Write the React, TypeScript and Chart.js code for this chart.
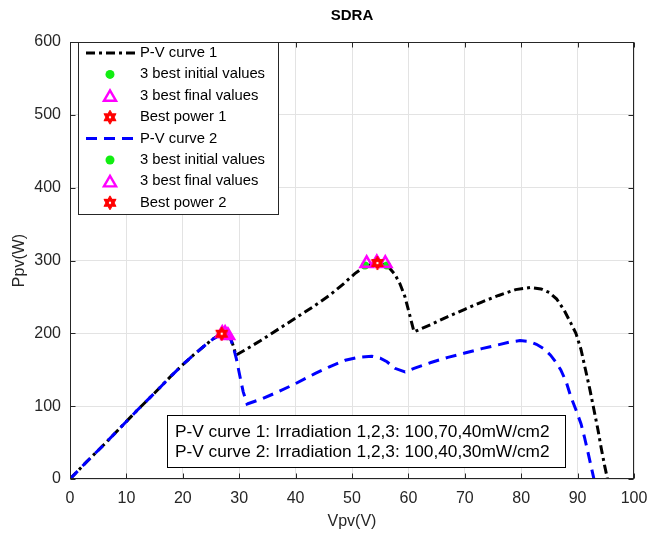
import React, { useEffect, useRef } from 'react';
import { Chart, registerables } from 'chart.js';

Chart.register(...registerables);

// ---------- data ----------
const chartTitle = 'SDRA';
const xLabel = 'Vpv(V)';
const yLabel = 'Ppv(W)';
const xTickValues = [0, 10, 20, 30, 40, 50, 60, 70, 80, 90, 100];
const yTickValues = [0, 100, 200, 300, 400, 500, 600];

const curve1V = [0, 3, 6, 9, 12, 15, 18, 20, 22, 24, 25.5, 26.8, 27.8, 28.5, 29, 29.4, 31, 34, 37, 40, 43, 46, 48.5, 50.5, 52.3, 54, 55.5, 56.6, 57.6, 58.5, 59.4, 60.2, 61, 64, 67, 70, 73, 76, 79, 81.7, 83.5, 85, 86.3, 87.6, 88.8, 89.7, 90.6, 91.4, 92.2, 92.9, 93.6, 94.2, 94.8, 95.3];
const curve1P = [0, 24, 47, 71, 95, 118, 142, 157, 171, 184, 193, 199, 199.5, 192, 182, 170, 177, 191, 206, 221, 236, 252, 268, 282, 292, 296, 295, 290, 281, 268, 250, 226, 202, 212, 223, 233, 243, 252, 260, 263, 261, 256, 247, 232, 214, 200, 178, 150, 122, 95, 68, 42, 18, 0];

const curve2V = [0, 3, 6, 9, 12, 15, 18, 20, 22, 24, 25.5, 26.8, 27.8, 28.5, 29, 29.5, 30.1, 30.7, 31.4, 34, 37, 40, 43.5, 46, 48.8, 51, 53.5, 55, 56.2, 57.6, 59.4, 61, 64, 67, 70, 73, 75.8, 78, 79.8, 81.3, 82.7, 84, 85.2, 86.2, 87, 88, 88.8, 89.7, 90.6, 91.2, 91.8, 92.4, 92.9];
const curve2P = [0, 24, 47, 71, 95, 118, 142, 157, 171, 184, 193, 199, 199.5, 192, 180, 165, 142, 120, 103, 110, 120, 131, 145, 154, 163, 167, 168.5, 166, 161, 152, 147, 152, 160, 167, 173, 179, 184, 188, 190, 189, 185, 179, 170, 160, 150, 133, 113, 95, 76, 58, 38, 17, 0];

const init1V = [52.3, 56.2, 54.6];
const init1P = [293, 293, 296];
const final1V = [52.6, 55.9, 54.4];
const final1P = [296, 296, 297];
const best1V = [54.5];
const best1P = [296.5];

const init2V = [27.3, 27.9, 26.9];
const init2P = [198, 196, 200];
const final2V = [27.5, 28.0, 27.0];
const final2P = [200, 197, 200];
const best2V = [26.9];
const best2P = [199.5];

const legendLabels = [
  'P-V curve 1',
  '3 best initial values',
  '3 best final values',
  'Best power 1',
  'P-V curve 2',
  '3 best initial values',
  '3 best final values',
  'Best power 2',
];
const noteLines = [
  'P-V curve 1: Irradiation 1,2,3: 100,70,40mW/cm2',
  'P-V curve 2: Irradiation 1,2,3: 100,40,30mW/cm2',
];

// ---------- styles ----------
const FONT = '"Liberation Sans", Arial, Helvetica, sans-serif';
const AXIS = '#262626';
const GREEN = '#11ee11';
const MAGENTA = '#ff00ff';
const RED = '#ff0000';
const BLUE = '#0000ff';
const DASHDOT = [9, 4, 3, 4];
const DASH = [11, 7];

const pts = (xs: number[], ys: number[]) => xs.map((x, i) => ({ x, y: ys[i] }));

function makeHexagram(r: number, color: string): HTMLCanvasElement {
  const size = Math.ceil(2 * r + 4);
  const c = document.createElement('canvas');
  c.width = size;
  c.height = size;
  const g = c.getContext('2d') as CanvasRenderingContext2D;
  const cx = size / 2;
  const cy = size / 2;
  g.fillStyle = color;
  g.strokeStyle = color;
  g.lineWidth = 1;
  g.beginPath();
  for (let i = 0; i < 12; i++) {
    const ang = -Math.PI / 2 + (i * Math.PI) / 6;
    const rr = i % 2 === 0 ? r : r / Math.sqrt(3);
    const px = cx + rr * Math.cos(ang);
    const py = cy + rr * Math.sin(ang);
    if (i === 0) g.moveTo(px, py);
    else g.lineTo(px, py);
  }
  g.closePath();
  g.fill();
  g.stroke();
  g.fillStyle = '#ffffff';
  g.beginPath();
  g.arc(cx, cy, 1.2, 0, Math.PI * 2);
  g.fill();
  return c;
}

export default function App() {
  const ref = useRef<HTMLCanvasElement | null>(null);

  useEffect(() => {
    if (!ref.current) return;
    const hex = makeHexagram(7, RED);

    const overlay = {
      id: 'overlay',
      afterDraw(chart: any) {
        const ctx: CanvasRenderingContext2D = chart.ctx;
        const a = chart.chartArea;
        const xs = chart.scales.x;
        const ys = chart.scales.y;
        ctx.save();

        // box + inward ticks
        const L = Math.round(a.left) + 0.5;
        const R = Math.round(a.right) - 0.5;
        const T = Math.round(a.top) + 0.5;
        const B = Math.round(a.bottom) - 0.5;
        ctx.strokeStyle = AXIS;
        ctx.lineWidth = 1;
        ctx.setLineDash([]);
        ctx.strokeRect(L, T, R - L, B - T);
        ctx.beginPath();
        const tl = 5;
        for (const v of xTickValues) {
          const px = Math.round(xs.getPixelForValue(v)) + 0.5;
          ctx.moveTo(px, B);
          ctx.lineTo(px, B - tl);
          ctx.moveTo(px, T);
          ctx.lineTo(px, T + tl);
        }
        for (const v of yTickValues) {
          const py = Math.round(ys.getPixelForValue(v)) + 0.5;
          ctx.moveTo(L, py);
          ctx.lineTo(L + tl, py);
          ctx.moveTo(R, py);
          ctx.lineTo(R - tl, py);
        }
        ctx.stroke();

        // title
        ctx.fillStyle = '#000';
        ctx.font = `bold 15px ${FONT}`;
        ctx.textAlign = 'center';
        ctx.textBaseline = 'middle';
        ctx.fillText(chartTitle, (a.left + a.right) / 2, 16);

        // legend
        const lx = 78.5, ly = a.top + 0.5, lw = 200, lh = 172;
        ctx.fillStyle = '#fff';
        ctx.fillRect(lx, ly, lw, lh);
        ctx.strokeStyle = AXIS;
        ctx.lineWidth = 1;
        ctx.strokeRect(lx, ly, lw, lh);
        const rowY0 = ly + 10.5;
        const rowStep = 21.4;
        ctx.font = `14.8px ${FONT}`;
        ctx.textAlign = 'left';
        ctx.textBaseline = 'middle';
        legendLabels.forEach((lab, i) => {
          const y = rowY0 + i * rowStep;
          const kind = i % 4;
          const mx = 110;
          if (kind === 0) {
            ctx.save();
            ctx.lineWidth = 3;
            ctx.strokeStyle = i === 0 ? '#000' : BLUE;
            ctx.setLineDash(i === 0 ? DASHDOT : DASH);
            ctx.beginPath();
            ctx.moveTo(86, y);
            ctx.lineTo(137, y);
            ctx.stroke();
            ctx.restore();
          } else if (kind === 1) {
            ctx.fillStyle = GREEN;
            ctx.beginPath();
            ctx.arc(mx, y, 4.5, 0, Math.PI * 2);
            ctx.fill();
          } else if (kind === 2) {
            ctx.save();
            ctx.strokeStyle = MAGENTA;
            ctx.lineWidth = 2.4;
            ctx.setLineDash([]);
            const r = 7;
            ctx.beginPath();
            for (let k = 0; k < 3; k++) {
              const ang = -Math.PI / 2 + (k * 2 * Math.PI) / 3;
              const px = mx + r * Math.cos(ang);
              const py = y + 1.5 + r * Math.sin(ang);
              if (k === 0) ctx.moveTo(px, py);
              else ctx.lineTo(px, py);
            }
            ctx.closePath();
            ctx.stroke();
            ctx.restore();
          } else {
            ctx.drawImage(hex, mx - hex.width / 2, y - hex.height / 2);
          }
          ctx.fillStyle = '#000';
          ctx.fillText(lab, 140, y);
        });

        // annotation box
        const bx = 167.5, by = 415.5, bw = 398, bh = 52;
        ctx.fillStyle = '#fff';
        ctx.fillRect(bx, by, bw, bh);
        ctx.strokeStyle = '#000';
        ctx.strokeRect(bx, by, bw, bh);
        ctx.fillStyle = '#000';
        ctx.font = `17.3px ${FONT}`;
        ctx.textAlign = 'left';
        ctx.textBaseline = 'middle';
        ctx.fillText(noteLines[0], 175, 432);
        ctx.fillText(noteLines[1], 175, 452.5);

        ctx.restore();
      },
    };

    const chart = new Chart(ref.current, {
      type: 'scatter',
      data: {
        datasets: [
          {
            label: legendLabels[0],
            data: pts(curve1V, curve1P),
            showLine: true,
            borderColor: '#000',
            borderWidth: 3,
            borderDash: DASHDOT,
            pointRadius: 0,
            tension: 0,
            order: 10,
          },
          {
            label: legendLabels[4],
            data: pts(curve2V, curve2P),
            showLine: true,
            borderColor: BLUE,
            borderWidth: 3,
            borderDash: DASH,
            pointRadius: 0,
            tension: 0,
            order: 9,
          },
          {
            label: legendLabels[1],
            data: pts(init1V, init1P),
            pointStyle: 'circle',
            pointRadius: 4,
            backgroundColor: GREEN,
            borderColor: GREEN,
            borderWidth: 0,
            order: 6,
          },
          {
            label: legendLabels[5],
            data: pts(init2V, init2P),
            pointStyle: 'circle',
            pointRadius: 4,
            backgroundColor: GREEN,
            borderColor: GREEN,
            borderWidth: 0,
            order: 6,
          },
          {
            label: legendLabels[2],
            data: pts(final1V, final1P),
            pointStyle: 'triangle',
            pointRadius: 7,
            backgroundColor: 'rgba(0,0,0,0)',
            borderColor: MAGENTA,
            borderWidth: 2.6,
            order: 5,
          },
          {
            label: legendLabels[6],
            data: pts(final2V, final2P),
            pointStyle: 'triangle',
            pointRadius: 7,
            backgroundColor: 'rgba(0,0,0,0)',
            borderColor: MAGENTA,
            borderWidth: 2.6,
            order: 5,
          },
          {
            label: legendLabels[3],
            data: pts(best1V, best1P),
            pointStyle: hex,
            pointRadius: 6,
            order: 1,
          },
          {
            label: legendLabels[7],
            data: pts(best2V, best2P),
            pointStyle: hex,
            pointRadius: 6,
            order: 1,
          },
        ],
      },
      options: {
        animation: false,
        responsive: false,
        maintainAspectRatio: false,
        events: [],
        layout: { padding: { left: 0, right: 16, top: 42, bottom: 0 } },
        plugins: {
          legend: { display: false },
          tooltip: { enabled: false },
          title: { display: false },
        },
        scales: {
          x: {
            type: 'linear',
            min: 0,
            max: 100,
            afterFit(s: any) {
              s.height = 55;
              s.paddingLeft = 0;
              s.paddingRight = 0;
            },
            ticks: {
              stepSize: 10,
              autoSkip: false,
              maxRotation: 0,
              padding: 10,
              color: AXIS,
              font: { size: 16, family: FONT },
            },
            grid: { color: '#e3e3e3', drawTicks: false },
            border: { display: false },
            title: {
              display: true,
              text: xLabel,
              color: AXIS,
              font: { size: 16, family: FONT },
              padding: { top: 0, bottom: 3 },
            },
          },
          y: {
            type: 'linear',
            min: 0,
            max: 600,
            afterFit(s: any) {
              s.width = 70;
              s.paddingTop = 0;
              s.paddingBottom = 0;
            },
            ticks: {
              stepSize: 100,
              padding: 9,
              color: AXIS,
              font: { size: 16, family: FONT },
            },
            grid: { color: '#e3e3e3', drawTicks: false },
            border: { display: false },
            title: {
              display: true,
              text: yLabel,
              color: AXIS,
              font: { size: 16, family: FONT },
              padding: { top: 10, bottom: 0 },
            },
          },
        },
      },
      plugins: [overlay],
    } as any);

    return () => chart.destroy();
  }, []);

  return (
    <div style={{ position: 'fixed', left: 0, top: 0, width: 650, height: 534, background: '#fff' }}>
      <canvas ref={ref} width={650} height={534} style={{ display: 'block' }} />
    </div>
  );
}
